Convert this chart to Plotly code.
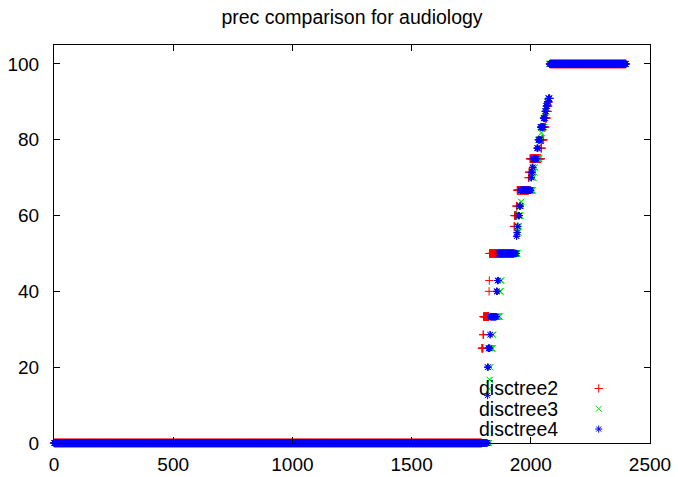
import numpy as np
import plotly.graph_objects as go

# Sorted per-instance precision (%) for each classifier, stored as run lengths:
# each level value paired with the number of instances sitting at that level.
disctree2_levels = [0, 25, 28.57, 33.33, 40, 42.86, 50, 57.14, 60, 62.5, 66.67,
                    70, 71.43, 75, 77.78, 80, 83.33, 85.71, 87.5, 88.89, 90, 90.91, 100]
disctree2_counts = [1795, 5, 2, 23, 1, 1, 103, 2, 8, 3, 48,
                    2, 4, 46, 3, 8, 7, 6, 4, 3, 3, 3, 320]

disctree3_levels = [0, 14.29, 16.67, 20, 25, 28.57, 33.33, 40, 42.86, 50, 55.56, 57.14,
                    60, 62.5, 63.64, 66.67, 70, 71.43, 72.73, 75, 80, 81.82, 83.33,
                    85.71, 87.5, 88.89, 90, 90.91, 100]
disctree3_counts = [1826, 1, 2, 2, 9, 3, 27, 4, 3, 68, 3, 3,
                    5, 3, 2, 48, 3, 3, 3, 18, 8, 2, 10,
                    6, 4, 4, 4, 4, 322]

disctree4_levels = [0, 12.5, 20, 25, 28.57, 33.33, 40, 42.86, 50, 54.55, 55.56, 57.14,
                    60, 62.5, 66.67, 70, 71.43, 72.73, 75, 77.78, 80, 83.33, 85.71,
                    87.5, 88.89, 90, 90.91, 100]
disctree4_counts = [1818, 1, 3, 7, 2, 25, 4, 4, 76, 2, 2, 3,
                    6, 4, 44, 3, 3, 3, 16, 5, 10, 12, 7,
                    5, 5, 4, 5, 321]

series_names = ["disctree2", "disctree3", "disctree4"]
series_colors = ["#ff0000", "#00ee00", "#0000ff"]
series_symbols = ["cross-thin", "x-thin", "asterisk-open"]

x_ticks = [0, 500, 1000, 1500, 2000, 2500]
y_ticks = [0, 20, 40, 60, 80, 100]

runs = [
    (disctree2_levels, disctree2_counts),
    (disctree3_levels, disctree3_counts),
    (disctree4_levels, disctree4_counts),
]

fig = go.Figure()
for (levels, counts), name, color, symbol in zip(runs, series_names,
                                                 series_colors, series_symbols):
    y = np.repeat(levels, counts)
    x = np.arange(len(y))
    fig.add_trace(go.Scatter(
        x=x, y=y, mode="markers", name=name, showlegend=False,
        cliponaxis=False,
        marker=dict(symbol=symbol, size=6, color=color,
                    line=dict(color=color, width=1)),
    ))

# Key in the lower right: label text followed by its marker sample
key_rows_y = [0.137, 0.086, 0.035]
for name, color, symbol, ky in zip(series_names, series_colors,
                                   series_symbols, key_rows_y):
    fig.add_annotation(xref="paper", yref="paper", x=0.849, y=ky,
                       text=name, showarrow=False, xanchor="right",
                       yanchor="middle",
                       font=dict(family="Liberation Sans", size=19.5,
                                 color="black"))
    fig.add_trace(go.Scatter(
        x=[0.914], y=[ky], xaxis="x2", yaxis="y2", mode="markers",
        showlegend=False, cliponaxis=False, hoverinfo="skip",
        marker=dict(symbol=symbol, size=6, color=color,
                    line=dict(color=color, width=1)),
    ))

axis_common = dict(
    showline=True, linecolor="black", linewidth=1, mirror="ticks",
    ticks="inside", ticklen=6, tickcolor="black", tickwidth=1,
    showgrid=False, zeroline=False, automargin=False,
    tickfont=dict(family="Liberation Sans", size=19, color="black"),
)

fig.update_layout(
    width=678, height=477,
    margin=dict(l=54, r=28, t=45, b=34),
    paper_bgcolor="white", plot_bgcolor="white",
    title=dict(text="prec comparison for audiology", x=0.5, xref="paper",
               xanchor="center", y=0.965, yanchor="middle", automargin=False,
               font=dict(family="Liberation Sans", size=19.5, color="black")),
    xaxis=dict(range=[0, 2500], tickvals=x_ticks, ticklabelstandoff=4,
               **axis_common),
    yaxis=dict(range=[0, 105], tickvals=y_ticks, ticklabelstandoff=10,
               **axis_common),
    xaxis2=dict(range=[0, 1], overlaying="x", visible=False),
    yaxis2=dict(range=[0, 1], overlaying="y", visible=False),
    showlegend=False,
)

fig.write_html("out.html")
